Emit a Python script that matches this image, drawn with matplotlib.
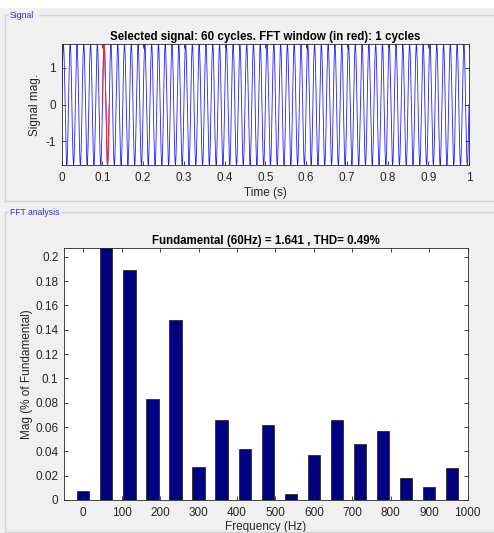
import numpy as np
import matplotlib
matplotlib.use("Agg")
import matplotlib.pyplot as plt
from matplotlib.lines import Line2D

plt.rcParams['font.family'] = ['Liberation Sans', 'DejaVu Sans']

# ---- data ----
signal_freq_hz = 60
signal_amp = 1.641
signal_duration_s = 1.0
fft_window_start_s = 0.1
fft_window_cycles = 1

harm_freqs = [0, 60, 120, 180, 240, 300, 360, 420, 480, 540, 600, 660, 720, 780, 840, 900, 960]
harm_mags = [0.007, 100.0, 0.189, 0.083, 0.148, 0.027, 0.066, 0.042, 0.062, 0.005,
             0.037, 0.066, 0.046, 0.057, 0.018, 0.011, 0.026]

sig_xticks = [0, 0.1, 0.2, 0.3, 0.4, 0.5, 0.6, 0.7, 0.8, 0.9, 1]
sig_xticklabels = ['0', '0.1', '0.2', '0.3', '0.4', '0.5', '0.6', '0.7', '0.8', '0.9', '1']
sig_yticks = [-1, 0, 1]
sig_yticklabels = ['-1', '0', '1']
fft_xticks = [0, 100, 200, 300, 400, 500, 600, 700, 800, 900, 1000]
fft_xticklabels = ['0', '100', '200', '300', '400', '500', '600', '700', '800', '900', '1000']
fft_yticks = [0, 0.02, 0.04, 0.06, 0.08, 0.1, 0.12, 0.14, 0.16, 0.18, 0.2]
fft_yticklabels = ['0', '0.02', '0.04', '0.06', '0.08', '0.1', '0.12', '0.14', '0.16', '0.18', '0.2']

sig_title = 'Selected signal: 60 cycles. FFT window (in red): 1 cycles'
fft_title = 'Fundamental (60Hz) = 1.641 , THD= 0.49%'

# ---- figure ----
W, H = 494, 533
fig = plt.figure(figsize=(W / 100, H / 100), dpi=100, facecolor='#f0f0f0')

def px(x, y):
    return x / W, 1 - y / H

# white strip at top
fig.patches.append(plt.Rectangle((0, 1 - 8 / H), 1, 8 / H, transform=fig.transFigure,
                                 facecolor='white', edgecolor='none', zorder=0))

# panel borders
lc = '#d4d4d4'
def fline(xs, ys):
    fig.add_artist(Line2D([x / W for x in xs], [1 - y / H for y in ys], color=lc, lw=1.0,
                          transform=fig.transFigure, zorder=0.5))
fline([5, 8], [15, 15]); fline([40, 494], [15, 15]); fline([5, 5], [15, 201]); fline([5, 494], [201, 201])
fline([5, 8], [212, 212]); fline([62, 494], [212, 212]); fline([5, 5], [212, 532.3]); fline([5, 494], [532.3, 532.3])
fig.text(*px(9.5, 15.5), 'Signal', color='#3333cc', fontsize=6.2, va='center', ha='left')
fig.text(*px(9.5, 212.5), 'FFT analysis', color='#3333cc', fontsize=6.2, va='center', ha='left')

axc = '#262626'

def style(ax):
    ax.set_facecolor('white')
    for s in ax.spines.values():
        s.set_color('#262626')
        s.set_linewidth(0.6)
    ax.tick_params(direction='in', top=True, right=True, length=3, width=0.6,
                   colors=axc, labelsize=8.5, labelcolor=axc)
    ax.tick_params(axis='x', pad=5)
    ax.tick_params(axis='y', pad=4)

# ---- top axes: signal ----
ax1 = fig.add_axes([61.7 / W, 1 - 165 / H, (469 - 61.7) / W, (165 - 44.3) / H])
t = np.linspace(0, signal_duration_s, 20001)
y = signal_amp * np.sin(2 * np.pi * signal_freq_hz * t)
ax1.plot(t, y, color='#2020ff', lw=0.6)
win_end = fft_window_start_s + fft_window_cycles / signal_freq_hz
m = (t >= fft_window_start_s) & (t <= win_end)
ax1.plot(t[m], y[m], color='#ff2020', lw=0.7)
ax1.set_xlim(0, signal_duration_s)
ax1.set_ylim(-signal_amp, signal_amp)
ax1.set_xticks(sig_xticks, sig_xticklabels)
ax1.set_yticks(sig_yticks, sig_yticklabels)
style(ax1)
ax1.set_title(sig_title, fontsize=8.3, fontweight='bold', color='#000000', pad=3)
ax1.set_xlabel('Time (s)', fontsize=8.5, color=axc, labelpad=2)
ax1.set_ylabel('Signal mag.', fontsize=8.5, color=axc, labelpad=3)

# ---- bottom axes: FFT ----
ax2 = fig.add_axes([64 / W, 1 - 500 / H, (467.7 - 64) / W, (500 - 247.7) / H])
ax2.bar(harm_freqs, harm_mags, width=32, color='#000080', edgecolor='#1a1a1a', linewidth=0.5)
ax2.set_xlim(-50, 1000)
ax2.set_ylim(0, 0.2074)
ax2.set_xticks(fft_xticks, fft_xticklabels)
ax2.set_yticks(fft_yticks, fft_yticklabels)
style(ax2)
ax2.set_title(fft_title, fontsize=8.3, fontweight='bold', color='#000000', pad=3)
ax2.set_xlabel('Frequency (Hz)', fontsize=8.5, color=axc, labelpad=1.5)
ax2.set_ylabel('Mag (% of Fundamental)', fontsize=8.5, color=axc, labelpad=2)

fig.savefig('out.png', dpi=100, facecolor=fig.get_facecolor())
